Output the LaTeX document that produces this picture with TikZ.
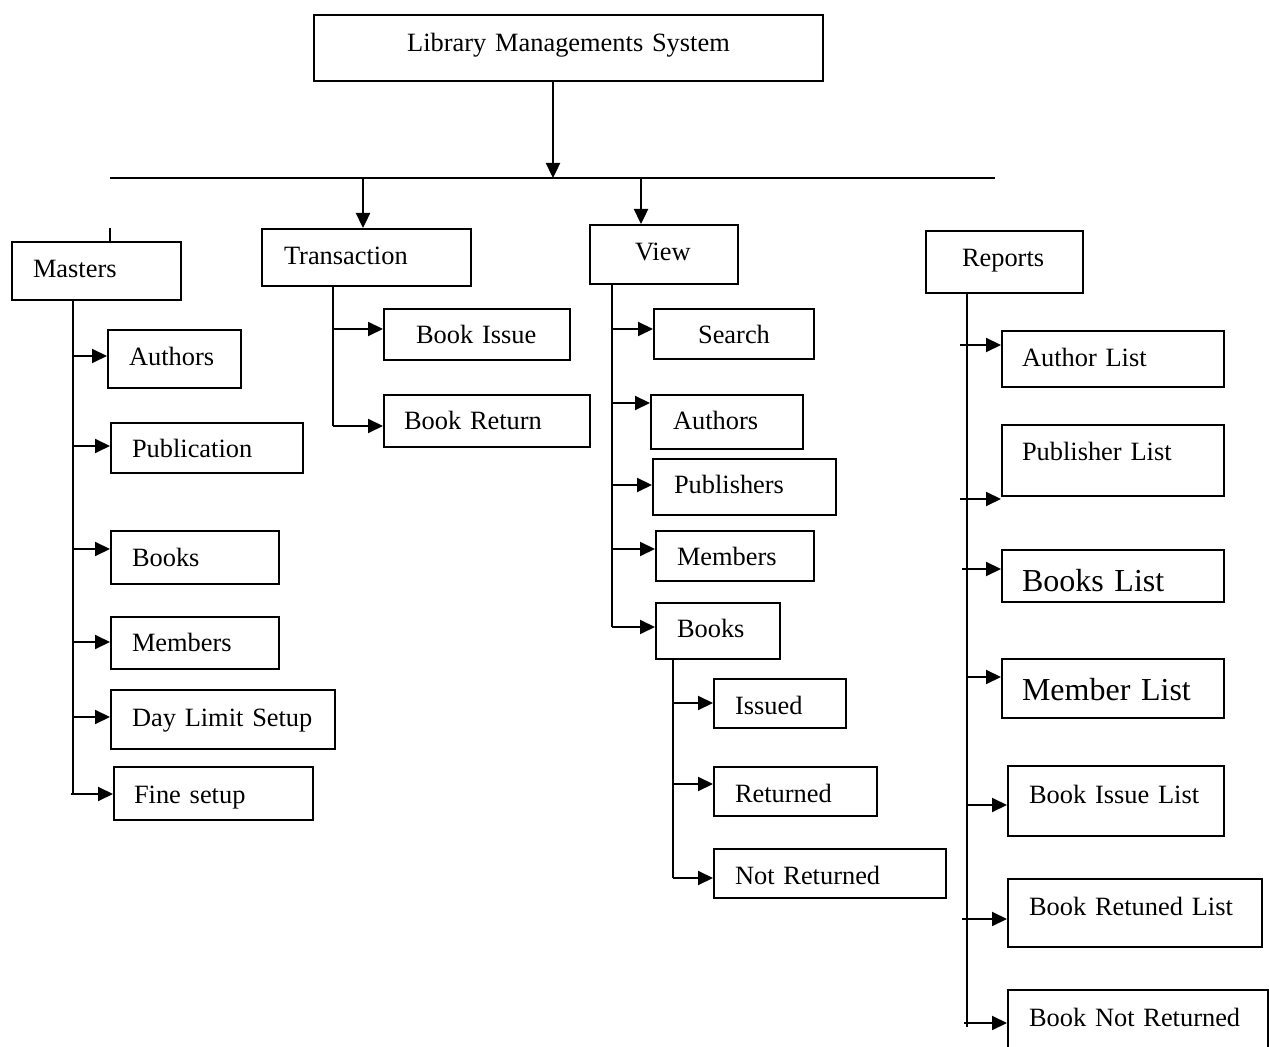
\documentclass[tikz,border=0pt]{standalone}
\usepackage{fontspec}
\setmainfont{Liberation Serif}
\usetikzlibrary{arrows.meta}
\tikzset{
  box/.style n args={4}{
    draw, line width=1pt, anchor=north west, align=left,
    inner ysep=0pt, inner xsep=#1, text width=#2,
    text height=#3, text depth=#4
  },
  arr/.style={line width=1pt, -{Triangle[length=7.5pt,width=7pt]}},
  bigtext/.style={font=\fontsize{16}{19}\selectfont}
}

\begin{document}
\begin{tikzpicture}[x=0.5pt,y=-0.5pt,
  every node/.style={font=\fontsize{13.2}{15}\selectfont}]
\clip (0,0) rectangle (1269,1047);

% top level
\node[box={5pt}{244.5pt}{18.5pt}{14.5pt}, align=center] (lms) at (313,14) {Library Managements System};
\coordinate (busl) at (110,178);
\coordinate (busr) at (995,178);
\draw[line width=1pt] (busl) -- (busr);
\draw[arr, line width=1.2pt] (lms.south -| 553,0) -- (busl -| 553,0);

\node[box={10.5pt}{63.5pt}{18pt}{11pt}] (masters) at (11,241) {Masters};
\node[box={11pt}{82.5pt}{18pt}{10.5pt}] (trans) at (261,228) {Transaction};
\node[box={22.5pt}{29pt}{18pt}{11.5pt}] (view) at (589,224) {View};
\node[box={18pt}{42.5pt}{18pt}{13pt}] (reports) at (925,230) {Reports};

\draw[line width=1pt] (masters.north -| 110,0) -- (110,228);
\draw[arr, line width=1.2pt] (busl -| 363,0) -- (trans.north -| 363,0);
\draw[arr, line width=1.2pt] (busl -| 641,0) -- (view.north -| 641,0);

% masters
\node[box={10.5pt}{45.5pt}{18pt}{11pt}] (m1) at (107,329) {Authors};
\node[box={10.5pt}{75pt}{17.5pt}{7.5pt}] (m2) at (110,422) {Publication};
\node[box={10.5pt}{63pt}{18pt}{8.5pt}] (m3) at (110,530) {Books};
\node[box={10.5pt}{63pt}{17.5pt}{8.5pt}] (m4) at (110,616) {Members};
\node[box={10.5pt}{91pt}{18pt}{11.5pt}] (m5) at (110,689) {Day Limit Setup};
\node[box={10pt}{79.5pt}{18pt}{8.5pt}] (m6) at (113,766) {Fine setup};

\coordinate (mb) at (masters.south -| 73,0);
\draw[line width=1pt] (mb) -- (mb |- 0,795);
\draw[arr] (mb |- 0,356) -- (m1.west |- 0,356);
\draw[arr] (mb |- 0,446) -- (m2.west |- 0,446);
\draw[arr] (mb |- 0,549) -- (m3.west |- 0,549);
\draw[arr] (mb |- 0,642) -- (m4.west |- 0,642);
\draw[arr] (mb |- 0,717) -- (m5.west |- 0,717);
\draw[arr] (71,794) -- (m6.west |- 0,794);

% transaction
\node[box={16pt}{61pt}{17.5pt}{8pt}] (t1) at (383,308) {Book Issue};
\node[box={10pt}{83pt}{17.5pt}{8.5pt}] (t2) at (383,394) {Book Return};

\coordinate (tb) at (trans.south -| 333,0);
\draw[line width=1pt] (tb) -- (tb |- 0,426);
\draw[arr] (tb |- 0,329) -- (t1.west |- 0,329);
\draw[arr] (tb |- 0,426) -- (t2.west |- 0,426);

% view
\node[box={5pt}{70pt}{17.5pt}{7.5pt}, align=center] (v1) at (653,308) {Search};
\node[box={11pt}{54pt}{17.5pt}{9.5pt}] (v2) at (650,394) {Authors};
\node[box={10.5pt}{70.5pt}{17.5pt}{10.5pt}] (v3) at (652,458) {Publishers};
\node[box={10.5pt}{58pt}{17.5pt}{7.5pt}] (v4) at (655,530) {Members};
\node[box={10.5pt}{41pt}{17.5pt}{10.5pt}] (v5) at (655,602) {Books};

\coordinate (vb) at (view.south -| 612,0);
\draw[line width=1pt] (vb) -- (vb |- 0,627);
\draw[arr] (vb |- 0,329) -- (v1.west |- 0,329);
\draw[arr] (vb |- 0,403) -- (v2.west |- 0,403);
\draw[arr] (vb |- 0,485) -- (v3.west |- 0,485);
\draw[arr] (vb |- 0,549) -- (v4.west |- 0,549);
\draw[arr] (vb |- 0,627) -- (v5.west |- 0,627);

% view / books
\node[box={10.5pt}{45pt}{17.5pt}{7pt}] (b1) at (713,678) {Issued};
\node[box={10.5pt}{60.5pt}{17.5pt}{7pt}] (b2) at (713,766) {Returned};
\node[box={10.5pt}{95pt}{17.5pt}{7pt}] (b3) at (713,848) {Not Returned};

\coordinate (bb) at (v5.south -| 673,0);
\draw[line width=1pt] (bb) -- (bb |- 0,878);
\draw[arr] (bb |- 0,703) -- (b1.west |- 0,703);
\draw[arr] (bb |- 0,784) -- (b2.west |- 0,784);
\draw[arr] (bb |- 0,878) -- (b3.west |- 0,878);

% reports
\node[box={10pt}{91pt}{18pt}{10pt}] (r1) at (1001,330) {Author List};
\node[box={10pt}{91pt}{18pt}{17.5pt}] (r2) at (1001,424) {Publisher List};
\node[box={10pt}{91pt}{21pt}{5pt}, bigtext] (r3) at (1001,549) {Books List};
\node[box={10pt}{91pt}{20.5pt}{9pt}, bigtext] (r4) at (1001,658) {Member List};
\node[box={10.5pt}{87pt}{18.5pt}{16.5pt}] (r5) at (1007,765) {Book Issue List};
\node[box={10.5pt}{106pt}{18pt}{16pt}] (r6) at (1007,878) {Book Retuned List};
\node[box={10.5pt}{109pt}{18pt}{22.5pt}] (r7) at (1007,989) {Book Not Returned};

\coordinate (rb) at (reports.south -| 967,0);
\draw[line width=1pt] (rb) -- (rb |- 0,1027);
\draw[arr] (960,345) -- (r1.west |- 0,345);
\draw[arr] (960,499) -- (r2.west |- 0,499);
\draw[arr] (962,569) -- (r3.west |- 0,569);
\draw[arr] (rb |- 0,677) -- (r4.west |- 0,677);
\draw[arr] (966,805) -- (r5.west |- 0,805);
\draw[arr] (962,919) -- (r6.west |- 0,919);
\draw[arr] (964,1023) -- (r7.west |- 0,1023);
\end{tikzpicture}
\end{document}
